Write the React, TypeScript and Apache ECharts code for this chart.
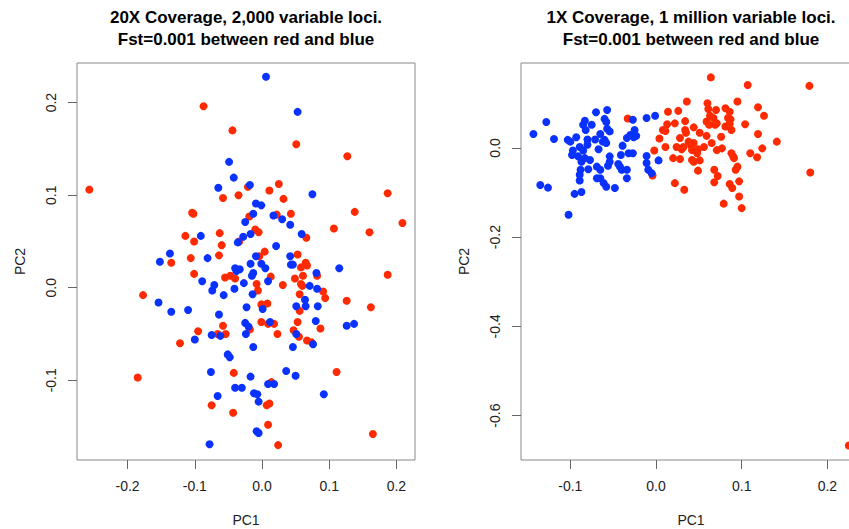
import React, { useEffect, useRef } from 'react';
import * as echarts from 'echarts';

const titles: string[] = [
  '20X Coverage, 2,000 variable loci.\nFst=0.001 between red and blue',
  '1X Coverage, 1 million variable loci.\nFst=0.001 between red and blue',
];
const xName = 'PC1';
const yName = 'PC2';

const leftXTicks = [-0.2, -0.1, 0, 0.1, 0.2];
const leftYTicks = [-0.1, 0, 0.1, 0.2];
const rightXTicks = [-0.1, 0, 0.1, 0.2];
const rightYTicks = [-0.6, -0.4, -0.2, 0];

const leftRed: [number, number][] = [
  [-0.087, 0.196], [-0.044, 0.170], [-0.257, 0.106], [-0.058, 0.097], [-0.035, 0.100],
  [-0.104, 0.081], [-0.102, 0.080], [-0.114, 0.056], [-0.101, 0.050], [-0.063, 0.059],
  [-0.060, 0.046], [-0.106, 0.032], [-0.064, 0.035], [-0.135, 0.027], [-0.101, 0.015],
  [-0.055, 0.011], [-0.047, 0.013], [-0.040, 0.010], [-0.177, -0.008], [-0.058, -0.041],
  [-0.095, -0.047], [-0.066, -0.050], [-0.054, -0.050], [-0.122, -0.060], [-0.042, -0.092],
  [-0.185, -0.097], [-0.075, -0.127], [-0.043, -0.135], [0.051, 0.155], [0.127, 0.142],
  [-0.021, 0.109], [0.011, 0.105], [0.025, 0.112], [0.032, 0.096], [0.187, 0.102],
  [0.138, 0.082], [-0.019, 0.077], [0.022, 0.079], [0.043, 0.080], [-0.010, 0.063],
  [-0.005, 0.060], [0.107, 0.064], [0.160, 0.060], [0.209, 0.070], [0.066, 0.054],
  [0.004, 0.039], [-0.004, 0.034], [0.053, 0.036], [0.058, 0.022], [0.065, 0.027],
  [0.067, 0.024], [-0.008, 0.004], [-0.006, -0.003], [0.013, 0.012], [0.031, 0.003],
  [0.049, 0.010], [0.061, 0.013], [0.058, 0.004], [0.060, 0.002], [0.082, 0.013],
  [0.091, -0.004], [0.094, -0.011], [0.187, 0.014], [0.126, -0.014], [0.162, -0.021],
  [0.056, -0.007], [0.056, -0.025], [0.053, -0.037], [0.087, -0.044], [-0.001, -0.018],
  [0.008, -0.017], [-0.018, -0.045], [-0.001, -0.037], [0.009, -0.039], [0.018, -0.039],
  [0.023, -0.050], [0.047, -0.046], [0.055, -0.053], [0.067, -0.057], [0.074, -0.059],
  [0.111, -0.091], [0.014, -0.102], [0.007, -0.127], [0.011, -0.125], [0.009, -0.148],
  [0.024, -0.170], [0.165, -0.158], [-0.034, 0.050],
];

const leftBlue: [number, number][] = [
  [-0.049, 0.136], [-0.042, 0.119], [-0.065, 0.108], [-0.091, 0.056], [-0.036, 0.049],
  [-0.137, 0.037], [-0.152, 0.028], [-0.081, 0.032], [-0.040, 0.021], [-0.038, 0.018],
  [-0.033, 0.020], [-0.089, 0.007], [-0.071, 0.003], [-0.074, -0.003], [-0.041, -0.001],
  [-0.057, -0.008], [-0.154, -0.016], [-0.135, -0.026], [-0.110, -0.024], [-0.064, -0.029],
  [-0.075, -0.051], [-0.062, -0.052], [-0.100, -0.056], [-0.051, -0.072], [-0.048, -0.075],
  [-0.076, -0.091], [-0.040, -0.108], [-0.030, -0.108], [-0.066, -0.117], [-0.078, -0.169],
  [0.006, 0.228], [0.053, 0.190], [-0.018, 0.111], [0.075, 0.101], [-0.009, 0.091],
  [-0.001, 0.089], [-0.013, 0.080], [0.017, 0.078], [0.030, 0.074], [0.042, 0.068],
  [-0.025, 0.071], [-0.017, 0.058], [0.059, 0.058], [-0.028, 0.055], [0.021, 0.045],
  [-0.009, 0.034], [0.042, 0.034], [0.043, 0.025], [0.046, 0.025], [-0.017, 0.026],
  [-0.001, 0.026], [0.005, 0.021], [-0.013, 0.016], [-0.015, 0.013], [-0.027, 0.005],
  [-0.014, -0.007], [0.009, 0.007], [0.071, 0.002], [0.081, 0.016], [0.082, -0.001],
  [0.115, 0.021], [0.064, -0.013], [0.065, -0.020], [0.051, -0.020], [0.083, -0.020],
  [0.080, -0.036], [-0.023, -0.021], [0.001, -0.023], [-0.025, -0.038], [-0.020, -0.042],
  [-0.024, -0.050], [0.012, -0.037], [-0.013, -0.064], [0.051, -0.050], [0.046, -0.064],
  [0.076, -0.061], [0.126, -0.041], [0.137, -0.039], [0.036, -0.090], [0.050, -0.095],
  [-0.017, -0.096], [0.009, -0.104], [0.018, -0.104], [-0.012, -0.114], [-0.007, -0.115],
  [-0.005, -0.123], [0.092, -0.115], [-0.008, -0.155], [-0.005, -0.157],
];

const rightRed: [number, number][] = [
  [-0.033, 0.066], [-0.004, -0.062], [-0.002, -0.006], [0.004, 0.021], [0.008, 0.040],
  [0.011, 0.038], [0.014, 0.081], [0.022, 0.055], [0.011, 0.002], [0.020, -0.023],
  [0.022, -0.079], [0.024, 0.002], [0.026, 0.083], [0.028, 0.022],
  [0.064, 0.158], [0.107, 0.141], [0.179, 0.139], [0.036, 0.104], [0.060, 0.100],
  [0.061, 0.087], [0.070, 0.085], [0.081, 0.089], [0.086, 0.081], [0.095, 0.104],
  [0.119, 0.091], [0.126, 0.072], [0.013, 0.053], [0.034, 0.060], [0.034, 0.040],
  [0.035, 0.034], [0.044, 0.046], [0.051, 0.034], [0.059, 0.059], [0.063, 0.072],
  [0.067, 0.067], [0.062, 0.052], [0.069, 0.052], [0.071, 0.055], [0.081, 0.048],
  [0.086, 0.054], [0.088, 0.040], [0.084, 0.067], [0.087, 0.064], [0.104, 0.053],
  [0.038, 0.014], [0.044, 0.011], [0.059, 0.027], [0.065, 0.011], [0.076, 0.025],
  [0.119, 0.031], [0.141, 0.014], [0.124, -0.001], [0.030, -0.003], [0.032, 0.002],
  [0.042, -0.005], [0.041, 0.005], [0.049, -0.003], [0.056, 0.002], [0.048, -0.012],
  [0.071, -0.005], [0.077, -0.001], [0.028, -0.025], [0.042, -0.027], [0.051, -0.028],
  [0.044, -0.031], [0.088, -0.012], [0.091, -0.023], [0.090, -0.019], [0.110, -0.012],
  [0.118, -0.021], [0.049, -0.051], [0.068, -0.049], [0.072, -0.063], [0.068, -0.077],
  [0.086, -0.081], [0.089, -0.090], [0.097, -0.075], [0.095, -0.042], [0.093, -0.049],
  [0.033, -0.094], [0.079, -0.125], [0.097, -0.109], [0.100, -0.135], [0.180, -0.055],
  [0.225, -0.667],
];

const rightBlue: [number, number][] = [
  [-0.057, 0.085], [-0.070, 0.080], [-0.001, 0.072], [-0.011, 0.067], [-0.027, 0.063],
  [-0.060, 0.065], [-0.058, 0.058], [-0.128, 0.058], [-0.083, 0.061], [-0.085, 0.052],
  [-0.075, 0.052], [-0.143, 0.031], [-0.119, 0.020], [-0.103, 0.018], [-0.100, 0.014],
  [-0.093, 0.024], [-0.082, 0.040], [-0.080, 0.019], [-0.071, 0.019], [-0.065, 0.031],
  [-0.062, 0.014], [-0.058, 0.011], [-0.060, 0.018], [-0.057, 0.043], [-0.054, 0.037],
  [-0.034, 0.022], [-0.030, 0.029], [-0.026, 0.024], [-0.023, 0.027], [-0.025, 0.040],
  [-0.089, 0.002], [-0.080, 0.007], [-0.085, -0.006], [-0.097, -0.006], [-0.098, -0.016],
  [-0.067, -0.003], [-0.091, -0.019], [-0.083, -0.023], [-0.077, -0.027], [-0.087, -0.031],
  [-0.054, -0.019], [-0.054, -0.031], [-0.056, -0.040], [-0.041, -0.016], [-0.039, 0.005],
  [-0.032, -0.012], [-0.027, -0.012], [-0.011, -0.018], [0.003, -0.028], [-0.011, -0.034],
  [-0.009, -0.049], [-0.005, -0.057], [-0.069, -0.042], [-0.065, -0.049], [-0.079, -0.048],
  [-0.088, -0.049], [-0.044, -0.036], [-0.042, -0.042], [-0.040, -0.049], [-0.034, -0.049],
  [-0.089, -0.060], [-0.089, -0.073], [-0.065, -0.068], [-0.069, -0.068], [-0.034, -0.068],
  [-0.061, -0.079], [-0.058, -0.087], [-0.048, -0.090], [-0.135, -0.083], [-0.126, -0.089],
  [-0.095, -0.103], [-0.087, -0.099], [-0.102, -0.150],
];

const FONT = '"Liberation Sans", Arial, Helvetica, sans-serif';
const RED = '#ff2a00';
const BLUE = '#0a32ff';

const fmt = (v: number) => (Math.abs(v) < 1e-9 ? '0.0' : v.toFixed(1));

function xAxis(gridIndex: number, min: number, max: number, ticks: number[]) {
  return {
    type: 'value', gridIndex, min, max, scale: true, position: 'bottom',
    name: xName, nameLocation: 'middle', nameGap: 53,
    nameTextStyle: { fontSize: 14, color: '#222', fontFamily: FONT },
    axisLine: { show: false, onZero: false },
    axisTick: { show: true, customValues: ticks, length: 9, lineStyle: { color: '#666' } },
    axisLabel: { customValues: ticks, formatter: fmt, margin: 19, fontSize: 14, color: '#222', fontFamily: FONT },
    splitLine: { show: false },
  };
}

function yAxis(gridIndex: number, min: number, max: number, ticks: number[]) {
  return {
    type: 'value', gridIndex, min, max, scale: true, position: 'left',
    name: yName, nameLocation: 'middle', nameGap: 50, nameRotate: 90,
    nameTextStyle: { fontSize: 14, color: '#222', fontFamily: FONT },
    axisLine: { show: false, onZero: false },
    axisTick: { show: true, customValues: ticks, length: 9, lineStyle: { color: '#666' } },
    axisLabel: { customValues: ticks, formatter: fmt, rotate: 90, margin: 19, fontSize: 14, color: '#222', fontFamily: FONT },
    splitLine: { show: false },
  };
}

function scatter(idx: number, data: [number, number][], color: string) {
  return {
    type: 'scatter', xAxisIndex: idx, yAxisIndex: idx, data,
    symbol: 'circle', symbolSize: 8, silent: true, clip: false,
    itemStyle: { color, opacity: 1 },
  };
}

export default function App() {
  const ref = useRef<HTMLDivElement>(null);
  useEffect(() => {
    if (!ref.current) return;
    const chart = echarts.init(ref.current, undefined, { renderer: 'svg' });
    chart.setOption({
      animation: false,
      backgroundColor: '#ffffff',
      title: titles.map((t, i) => ({
        text: t,
        left: i === 0 ? 246 : 691,
        top: 6,
        textAlign: 'center',
        padding: 0,
        textStyle: { fontSize: 17, fontWeight: 'bold', color: '#000', fontFamily: FONT, lineHeight: 22 },
      })),
      grid: [
        { left: 77, top: 63, width: 338, height: 397, show: true, borderColor: '#888', borderWidth: 1, backgroundColor: 'transparent', containLabel: false, outerBoundsMode: 'none' },
        { left: 521, top: 63, width: 340, height: 397, show: true, borderColor: '#888', borderWidth: 1, backgroundColor: 'transparent', containLabel: false, outerBoundsMode: 'none' },
      ],
      xAxis: [
        xAxis(0, -0.2753, 0.2277, leftXTicks),
        xAxis(1, -0.1575, 0.2392, rightXTicks),
      ],
      yAxis: [
        yAxis(0, -0.1861, 0.2428, leftYTicks),
        yAxis(1, -0.6996, 0.1903, rightYTicks),
      ],
      series: [
        scatter(0, leftRed, RED),
        scatter(0, leftBlue, BLUE),
        scatter(1, rightRed, RED),
        scatter(1, rightBlue, BLUE),
      ],
    });
    return () => chart.dispose();
  }, []);
  return (
    <div
      ref={ref}
      style={{ position: 'absolute', left: 0, top: 0, width: 849, height: 529, background: '#fff' }}
    />
  );
}
